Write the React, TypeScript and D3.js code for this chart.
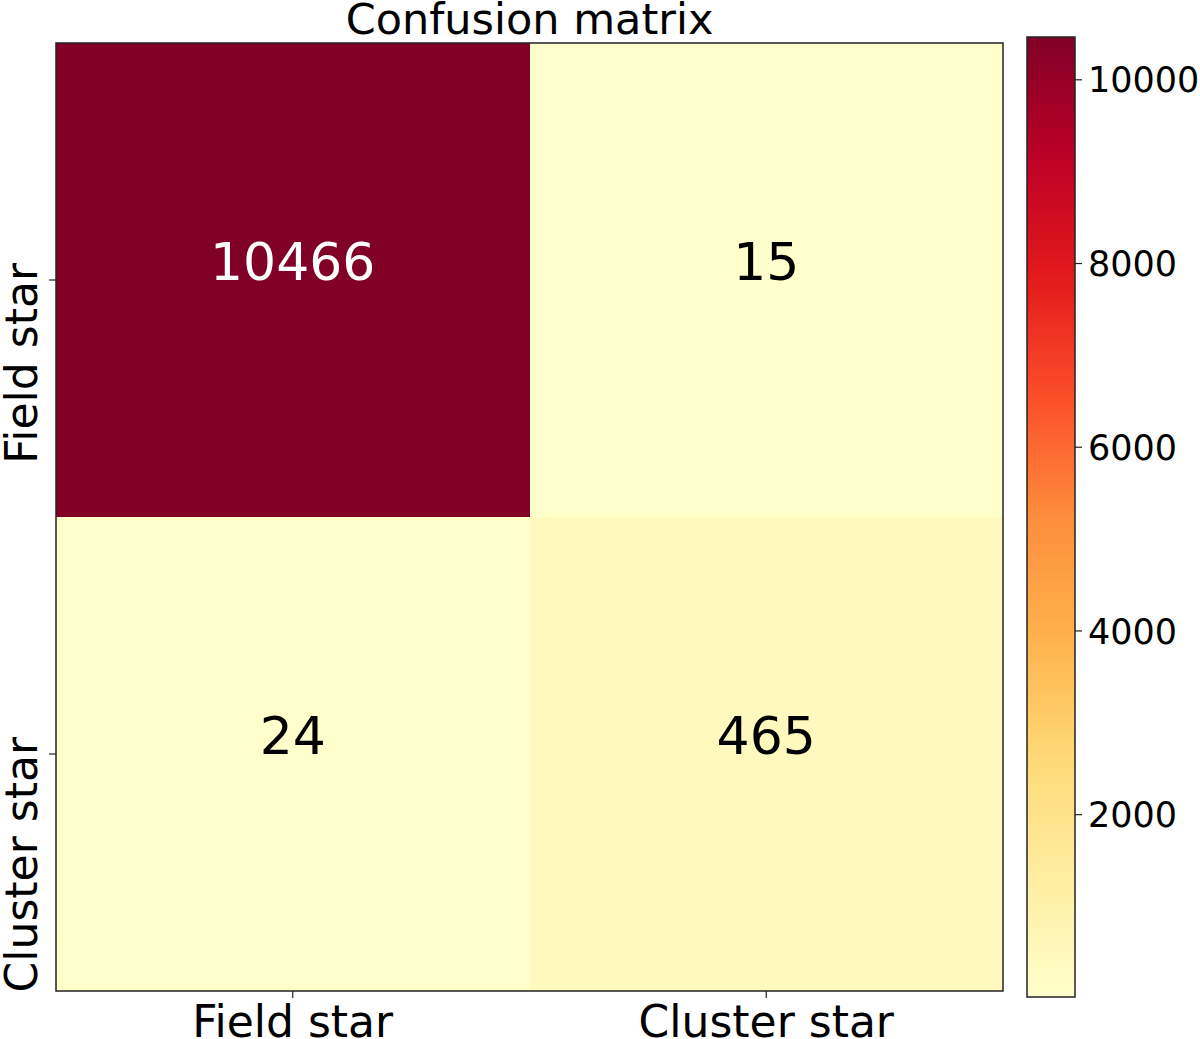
import { useEffect, useRef } from 'react';
import * as d3 from 'd3';

// ---- data ----
const classLabels: string[] = ['Field star', 'Cluster star'];
const fieldRow: number[] = [10466, 15];
const clusterRow: number[] = [24, 465];
const colorbarTicks: number[] = [2000, 4000, 6000, 8000, 10000];
const chartTitle = 'Confusion matrix';

// matplotlib YlOrRd control colours
const ylOrRd = ['#ffffcc', '#ffeda0', '#fed976', '#feb24c', '#fd8d3c', '#fc4e2a', '#e31a1c', '#bd0026', '#800026'];

const FONT = '"DejaVu Sans", sans-serif';

const App = () => {
    const svgRef = useRef<SVGSVGElement | null>(null);

    useEffect(() => {
        document.body.style.margin = '0';
        const svg = d3.select(svgRef.current);
        svg.selectAll('*').remove();

        const width = 1200;
        const height = 1039;
        const plot = { left: 56, top: 43, right: 1003, bottom: 991 };
        const cbar = { left: 1027, right: 1075, top: 37, bottom: 997 };

        svg.attr('width', width).attr('height', height).style('display', 'block');

        const rows = [fieldRow, clusterRow];
        const allValues = rows.flat();
        const vmin = d3.min(allValues) as number;
        const vmax = d3.max(allValues) as number;

        const colorT = d3.scaleLinear().domain([vmin, vmax]).range([0, 1]);
        const ramp = d3.piecewise(d3.interpolateRgb, ylOrRd);
        const color = (v: number) => ramp(Math.max(0, Math.min(1, colorT(v))));

        const x = d3.scaleBand<string>().domain(classLabels).range([plot.left, plot.right]);
        const y = d3.scaleBand<string>().domain(classLabels).range([plot.top, plot.bottom]);

        const cells = rows.flatMap((row, i) =>
            row.map((v, j) => ({ row: classLabels[i], col: classLabels[j], value: v }))
        );

        // ---- heatmap cells ----
        svg.append('g')
            .selectAll('rect')
            .data(cells)
            .enter()
            .append('rect')
            .attr('x', d => x(d.col) as number)
            .attr('y', d => y(d.row) as number)
            .attr('width', x.bandwidth())
            .attr('height', y.bandwidth())
            .attr('fill', d => color(d.value))
            .attr('shape-rendering', 'crispEdges');

        // ---- annotations ----
        svg.append('g')
            .selectAll('text')
            .data(cells)
            .enter()
            .append('text')
            .attr('x', d => (x(d.col) as number) + x.bandwidth() / 2)
            .attr('y', d => (y(d.row) as number) + y.bandwidth() / 2)
            .attr('text-anchor', 'middle')
            .style('font-family', FONT)
            .style('font-size', '52px')
            .attr('fill', d => (d.value > vmax / 2 ? '#ffffff' : '#000000'))
            .text(d => String(d.value));

        // ---- frame ----
        svg.append('rect')
            .attr('x', plot.left)
            .attr('y', plot.top)
            .attr('width', plot.right - plot.left)
            .attr('height', plot.bottom - plot.top)
            .attr('fill', 'none')
            .attr('stroke', '#222')
            .attr('stroke-width', 1.5);

        // ---- x ticks ----
        const xTicks = svg.append('g');
        classLabels.forEach(lbl => {
            const cx = (x(lbl) as number) + x.bandwidth() / 2;
            xTicks.append('line')
                .attr('x1', cx).attr('x2', cx)
                .attr('y1', plot.bottom).attr('y2', plot.bottom + 7)
                .attr('stroke', '#222').attr('stroke-width', 1.2);
            xTicks.append('text')
                .attr('x', cx)
                .attr('y', 1037)
                .attr('text-anchor', 'middle')
                .style('font-family', FONT)
                .style('font-size', '44px')
                .text(lbl);
        });

        // ---- y ticks ----
        const yTicks = svg.append('g');
        classLabels.forEach(lbl => {
            const cy = (y(lbl) as number) + y.bandwidth() / 2;
            yTicks.append('line')
                .attr('x1', plot.left - 7).attr('x2', plot.left)
                .attr('y1', cy).attr('y2', cy)
                .attr('stroke', '#222').attr('stroke-width', 1.2);
            yTicks.append('text')
                .attr('transform', `translate(37,${cy - 17}) rotate(-90)`)
                .attr('text-anchor', 'end')
                .style('font-family', FONT)
                .style('font-size', '44px')
                .text(lbl);
        });

        // ---- title ----
        svg.append('text')
            .attr('x', (plot.left + plot.right) / 2)
            .attr('y', 34)
            .attr('text-anchor', 'middle')
            .style('font-family', FONT)
            .style('font-size', '43px')
            .text(chartTitle);

        // ---- colorbar ----
        const cScale = d3.scaleLinear().domain([vmin, vmax]).range([cbar.bottom, cbar.top]);

        const defs = svg.append('defs');
        const grad = defs.append('linearGradient')
            .attr('id', 'cbar-grad')
            .attr('x1', 0).attr('y1', 1)
            .attr('x2', 0).attr('y2', 0);
        d3.range(0, 1.0001, 0.02).forEach(t => {
            grad.append('stop')
                .attr('offset', `${t * 100}%`)
                .attr('stop-color', ramp(t));
        });

        svg.append('rect')
            .attr('x', cbar.left)
            .attr('y', cbar.top)
            .attr('width', cbar.right - cbar.left)
            .attr('height', cbar.bottom - cbar.top)
            .attr('fill', 'url(#cbar-grad)')
            .attr('stroke', '#222')
            .attr('stroke-width', 1.5);

        const cAxis = svg.append('g');
        colorbarTicks.forEach(t => {
            const ty = cScale(t);
            cAxis.append('line')
                .attr('x1', cbar.right).attr('x2', cbar.right + 7)
                .attr('y1', ty).attr('y2', ty)
                .attr('stroke', '#222').attr('stroke-width', 1.2);
            cAxis.append('text')
                .attr('x', cbar.right + 13)
                .attr('y', ty)
                .attr('dy', '0.36em')
                .style('font-family', FONT)
                .style('font-size', '35px')
                .text(String(t));
        });
    }, []);

    return <svg ref={svgRef}></svg>;
};

export default App;
